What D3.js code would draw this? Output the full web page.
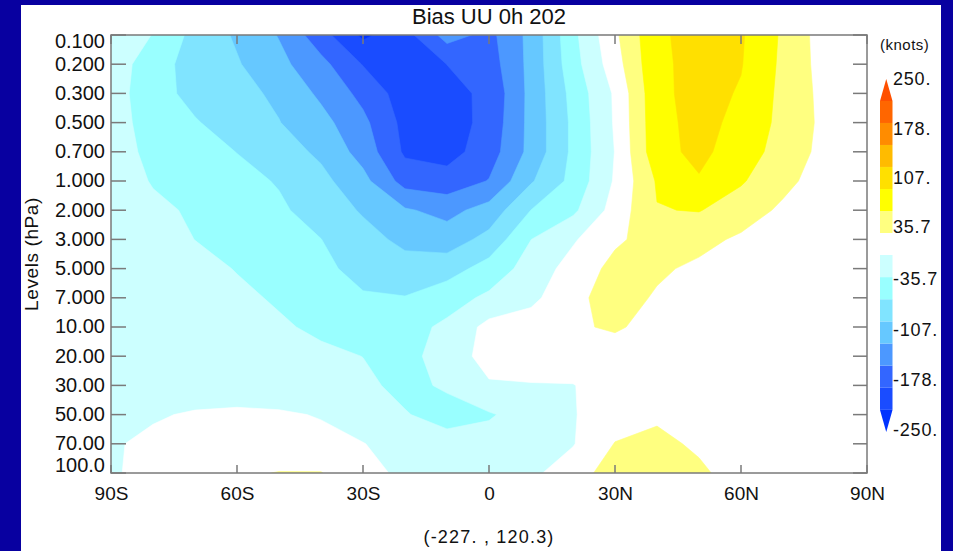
<!DOCTYPE html>
<html>
<head>
<meta charset="utf-8">
<title>Bias UU 0h 202</title>
<script src="https://cdn.jsdelivr.net/npm/d3@7"></script>
<style>
    html, body {
        margin: 0;
        padding: 0;
        background: #0800a0;
    }

    svg {
        display: block;
    }

    text {
        font-family: "Liberation Sans", Arial, Helvetica, sans-serif;
        fill: #111;
    }
</style>
</head>
<body>
<div id="chart"></div>
<script>
// Latitudes of the grid columns (deg, south negative)
const gridLats = [-90, -80, -70, -60, -50, -40, -30, -20, -10, 0, 10, 20, 30, 40, 50, 60, 70, 80, 90];

// Pressure levels (hPa), top of the chart first
const levelLabels = ["0.100", "0.200", "0.300", "0.500", "0.700", "1.000", "2.000", "3.000",
    "5.000", "7.000", "10.00", "20.00", "30.00", "50.00", "70.00", "100.0"];

// Bias of UU in knots, one row per level, one value per grid latitude
const bias_0_100 = [-7, -37, -83, -112, -145, -200, -257, -228, -164, -189, -132, -45, 29, 101, 120, 111, 66, 18, 11];
const bias_0_200 = [-14, -57, -85, -104, -133, -168, -216, -236, -214, -196, -132, -50, 20, 100, 118, 109, 64, 21, 11];
const bias_0_300 = [-18, -59, -81, -96, -114, -150, -189, -232, -225, -207, -132, -60, 5, 98, 120, 104, 62, 25, 11];
const bias_0_500 = [-21, -50, -69, -86, -106, -131, -170, -225, -232, -203, -132, -64, 4, 96, 118, 98, 61, 27, 12];
const bias_0_700 = [-21, -44, -58, -72, -91, -114, -157, -220, -228, -196, -132, -64, 1, 95, 116, 89, 57, 25, 11];
const bias_1_000 = [-18, -38, -49, -61, -74, -97, -132, -193, -200, -177, -111, -61, 4, 75, 104, 75, 46, 18, 9];
const bias_2_000 = [-14, -29, -40, -54, -66, -86, -111, -139, -154, -129, -71, -43, 14, 70, 73, 54, 29, 14, 7];
const bias_3_000 = [-11, -23, -36, -47, -60, -71, -94, -116, -125, -96, -36, -4, 30, 50, 46, 30, 18, 11, 7];
const bias_5_000 = [-9, -18, -27, -37, -50, -64, -82, -93, -87, -57, -21, 14, 46, 41, 29, 21, 14, 11, 7];
const bias_7_000 = [-7, -14, -21, -30, -39, -54, -68, -70, -50, -29, -9, 27, 50, 32, 21, 16, 12, 11, 7];
const bias_10_00 = [-5, -11, -18, -25, -32, -41, -50, -48, -29, 11, 18, 30, 41, 21, 16, 14, 11, 9, 7];
const bias_20_00 = [-4, -9, -14, -20, -25, -30, -36, -46, -21, 14, 18, 16, 14, 12, 11, 11, 9, 7, 7];
const bias_30_00 = [-4, -7, -11, -15, -20, -25, -30, -43, -32, -4, -2, -1, 14, 16, 14, 11, 9, 7, 7];
const bias_50_00 = [-4, -2, 2, 5, 4, -2, -18, -34, -46, -39, -21, -2, 18, 29, 21, 14, 11, 9, 7];
const bias_70_00 = [-2, 4, 9, 12, 12, 9, 1, -14, -25, -23, -16, -2, 37, 46, 29, 14, 11, 9, 7];
const bias_100_0 = [-4, 11, 21, 30, 37, 37, 11, -7, -14, -14, -7, 18, 54, 57, 43, 18, 11, 9, 7];

const biasRows = [bias_0_100, bias_0_200, bias_0_300, bias_0_500, bias_0_700, bias_1_000, bias_2_000, bias_3_000,
    bias_5_000, bias_7_000, bias_10_00, bias_20_00, bias_30_00, bias_50_00, bias_70_00, bias_100_0];

// Latitudes shown on the x-axis
const latTicks = [-90, -60, -30, 0, 30, 60, 90];

// Contour levels (knots)
const contourLevels = [-250, -214.3, -178.6, -142.9, -107.1, -71.4, -35.7, 0,
    35.7, 71.4, 107.1, 142.9, 178.6, 214.3, 250];

// Values written next to the colour bar
const positiveLabelValues = [250, 178.6, 107.1, 35.7];
const positiveLabelTexts = ["250.", "178.", "107.", "35.7"];
const negativeLabelValues = [-35.7, -107.1, -178.6, -250];
const negativeLabelTexts = ["-35.7", "-107.", "-178.", "-250."];

// Field range shown under the chart
const fieldMin = -227.;
const fieldMax = 120.3;

// Fill colours: one below the lowest level, then one for each level and up
const colorBelow = "#0033ff";
const colorLevels = ["#1a4cff", "#3366ff", "#4c98ff", "#66c8ff", "#80e4ff", "#99ffff", "#ccffff", "#ffffff",
    "#ffff80", "#ffff00", "#ffe000", "#ffbb00", "#ff8c00", "#ff6600", "#ff5000"];


/**
 * Filled contour chart of a latitude / level cross section
 *
 * @param element
 * @constructor
 */
function CrossSectionChart(element) {
    this.element = element;

    this.width = 953;
    this.height = 551;

    // White sheet inside the blue frame
    this.sheet = {left: 21, top: 5, right: 941, bottom: 551};

    // Plot area
    this.plot = {left: 111, top: 35, right: 867, bottom: 473};

    this.svg = null;
    this.xScale = null;
    this.yScale = null;

    /**
     * Initializes the chart
     */
    this.init = function () {
        this.element.innerHTML = "";
        this.setup();
        this.drawContours();
        this.drawAxes();
        this.drawTexts();
        this.drawColorBar();
    };

    /**
     * Svg, sheet and scales
     */
    this.setup = function () {
        let me = this;

        me.svg = d3.select(me.element).append("svg")
            .attr("width", me.width)
            .attr("height", me.height);

        me.svg.append("rect")
            .attr("width", me.width)
            .attr("height", me.height)
            .attr("fill", "#0800a0");

        me.svg.append("rect")
            .attr("x", me.sheet.left)
            .attr("y", me.sheet.top)
            .attr("width", me.sheet.right - me.sheet.left)
            .attr("height", me.sheet.bottom - me.sheet.top)
            .attr("fill", "#ffffff");

        me.xScale = d3.scaleLinear()
            .domain([-90, 90])
            .range([me.plot.left, me.plot.right]);

        me.yScale = d3.scalePoint()
            .domain(levelLabels)
            .range([me.plot.top, me.plot.bottom]);

        me.svg.append("clipPath")
            .attr("id", "plot-clip")
            .append("rect")
            .attr("x", me.plot.left)
            .attr("y", me.plot.top)
            .attr("width", me.plot.right - me.plot.left)
            .attr("height", me.plot.bottom - me.plot.top);
    };

    /**
     * Filled contours of the bias field
     */
    this.drawContours = function () {
        let me = this;
        let nx = gridLats.length;
        let ny = levelLabels.length;

        // Grid cell centres of d3.contours sit at i + 0.5
        let gx = d3.scaleLinear().domain([0.5, nx - 0.5])
            .range([me.xScale(gridLats[0]), me.xScale(gridLats[nx - 1])]);
        let gy = d3.scaleLinear().domain([0.5, ny - 0.5])
            .range([me.yScale(levelLabels[0]), me.yScale(levelLabels[ny - 1])]);

        let projection = d3.geoTransform({
            point: function (x, y) {
                this.stream.point(gx(x), gy(y));
            }
        });
        let path = d3.geoPath(projection);

        let values = biasRows.flat();
        let contours = d3.contours()
            .size([nx, ny])
            .thresholds(contourLevels)(values);

        let g = me.svg.append("g").attr("clip-path", "url(#plot-clip)");

        g.append("rect")
            .attr("x", me.plot.left)
            .attr("y", me.plot.top)
            .attr("width", me.plot.right - me.plot.left)
            .attr("height", me.plot.bottom - me.plot.top)
            .attr("fill", colorBelow);

        g.selectAll("path")
            .data(contours)
            .join("path")
            .attr("d", path)
            .attr("fill", (d, i) => colorLevels[i])
            .attr("stroke", (d, i) => colorLevels[i])
            .attr("stroke-width", 0.6);
    };

    /**
     * Frame, ticks and tick labels
     */
    this.drawAxes = function () {
        let me = this;
        let axisColor = "#7a7a7a";
        let latFormat = d => d === 0 ? "0" : Math.abs(d) + (d < 0 ? "S" : "N");

        let bottom = d3.axisBottom(me.xScale).tickValues(latTicks).tickSize(0).tickPadding(14).tickFormat(latFormat);
        let gb = me.svg.append("g")
            .attr("transform", `translate(0, ${me.plot.bottom})`)
            .call(bottom);
        gb.select(".domain").remove();
        gb.selectAll("text")
            .attr("font-size", 19)
            .attr("font-family", null)
            .attr("fill", "#111");

        let left = d3.axisLeft(me.yScale).tickSize(0).tickPadding(6);
        let gl = me.svg.append("g")
            .attr("transform", `translate(${me.plot.left}, 0)`)
            .call(left);
        gl.select(".domain").remove();
        gl.selectAll(".tick")
            .attr("transform", d => {
                let y = Math.max(me.plot.top + 7, Math.min(me.plot.bottom - 7, me.yScale(d)));
                return `translate(0, ${y})`;
            });
        gl.selectAll("text")
            .attr("font-size", 20)
            .attr("font-family", null)
            .attr("fill", "#111");

        // Inward ticks on all four sides
        let ticks = me.svg.append("g")
            .attr("stroke", axisColor)
            .attr("stroke-width", 1.5);

        ticks.selectAll(".ytick-l")
            .data(levelLabels)
            .join("line")
            .attr("x1", me.plot.left).attr("x2", me.plot.left + 15)
            .attr("y1", d => me.yScale(d)).attr("y2", d => me.yScale(d));

        ticks.selectAll(".ytick-r")
            .data(levelLabels)
            .join("line")
            .attr("class", "ytick-r")
            .attr("x1", me.plot.right).attr("x2", me.plot.right - 14)
            .attr("y1", d => me.yScale(d)).attr("y2", d => me.yScale(d));

        ticks.selectAll(".xtick-b")
            .data(latTicks)
            .join("line")
            .attr("class", "xtick-b")
            .attr("x1", d => me.xScale(d)).attr("x2", d => me.xScale(d))
            .attr("y1", me.plot.bottom).attr("y2", me.plot.bottom - 8);

        ticks.selectAll(".xtick-t")
            .data(latTicks)
            .join("line")
            .attr("class", "xtick-t")
            .attr("x1", d => me.xScale(d)).attr("x2", d => me.xScale(d))
            .attr("y1", me.plot.top).attr("y2", me.plot.top + 9);

        me.svg.append("rect")
            .attr("x", me.plot.left)
            .attr("y", me.plot.top)
            .attr("width", me.plot.right - me.plot.left)
            .attr("height", me.plot.bottom - me.plot.top)
            .attr("fill", "none")
            .attr("stroke", axisColor)
            .attr("stroke-width", 1.5);
    };

    /**
     * Title, axis title and range
     */
    this.drawTexts = function () {
        let me = this;
        let midX = (me.plot.left + me.plot.right) / 2;

        me.svg.append("text")
            .attr("x", midX)
            .attr("y", 24)
            .attr("text-anchor", "middle")
            .attr("font-size", 22)
            .text("Bias UU 0h 202");

        me.svg.append("text")
            .attr("transform", `translate(38, ${(me.plot.top + me.plot.bottom) / 2}) rotate(-90)`)
            .attr("text-anchor", "middle")
            .attr("font-size", 19)
            .attr("letter-spacing", "0.6px")
            .text("Levels (hPa)");

        me.svg.append("text")
            .attr("x", midX)
            .attr("y", 543)
            .attr("text-anchor", "middle")
            .attr("font-size", 18)
            .attr("letter-spacing", "1.2px")
            .text(`(${fieldMin.toFixed(0)}. , ${fieldMax})`);
    };

    /**
     * Colour bar with arrow ends, split in a positive and a negative part
     */
    this.drawColorBar = function () {
        let me = this;
        let x0 = 880;
        let w = 12.5;
        let step = contourLevels[8] - contourLevels[7];
        let top = contourLevels[contourLevels.length - 1];
        let bot = contourLevels[0];
        let g = me.svg.append("g");

        // Positive part: from the first coloured level up to the arrow tip
        let posScale = d3.scaleLinear().domain([step, top + step]).range([233, 79]);
        let posLevels = contourLevels.filter(v => v > 0);
        posLevels.forEach((v) => {
            let idx = contourLevels.indexOf(v);
            if (v < top) {
                g.append("rect")
                    .attr("x", x0).attr("width", w)
                    .attr("y", posScale(v + step))
                    .attr("height", posScale(v) - posScale(v + step))
                    .attr("fill", colorLevels[idx]);
            } else {
                g.append("path")
                    .attr("d", d3.line()([[x0, posScale(v)], [x0 + w, posScale(v)], [x0 + w / 2, posScale(v + step)]]) + "Z")
                    .attr("fill", colorLevels[idx]);
            }
        });

        // Negative part: from zero down to the arrow tip
        let negScale = d3.scaleLinear().domain([0, bot - step]).range([255, 432]);
        let negLevels = contourLevels.filter(v => v < 0);
        negLevels.forEach((v) => {
            let idx = contourLevels.indexOf(v);
            g.append("rect")
                .attr("x", x0).attr("width", w)
                .attr("y", negScale(v + step))
                .attr("height", negScale(v) - negScale(v + step))
                .attr("fill", colorLevels[idx]);
        });
        g.append("path")
            .attr("d", d3.line()([[x0, negScale(bot)], [x0 + w, negScale(bot)], [x0 + w / 2, negScale(bot - step)]]) + "Z")
            .attr("fill", colorBelow);

        // Labels
        let posLabel = d3.scaleLinear().domain([35.7, 250]).range([227, 79]);
        let negLabel = d3.scaleLinear().domain([-35.7, -250]).range([279, 430]);

        g.selectAll(".pos-label")
            .data(positiveLabelValues)
            .join("text")
            .attr("class", "pos-label")
            .attr("x", 893)
            .attr("y", d => posLabel(d))
            .attr("dy", "0.35em")
            .attr("font-size", 18)
            .attr("letter-spacing", "0.8px")
            .text((d, i) => positiveLabelTexts[i]);

        g.selectAll(".neg-label")
            .data(negativeLabelValues)
            .join("text")
            .attr("class", "neg-label")
            .attr("x", 893)
            .attr("y", d => negLabel(d))
            .attr("dy", "0.35em")
            .attr("font-size", 18)
            .attr("letter-spacing", "0.8px")
            .text((d, i) => negativeLabelTexts[i]);

        g.append("text")
            .attr("x", 880)
            .attr("y", 45)
            .attr("dy", "0.35em")
            .attr("font-size", 15)
            .attr("letter-spacing", "0.5px")
            .text("(knots)");

        // Blue frame covers the labels that run past the sheet
        me.svg.append("rect")
            .attr("x", me.sheet.right)
            .attr("y", 0)
            .attr("width", me.width - me.sheet.right)
            .attr("height", me.height)
            .attr("fill", "#0800a0");
    };

    this.init();
}

new CrossSectionChart(document.getElementById("chart"));
</script>
</body>
</html>
